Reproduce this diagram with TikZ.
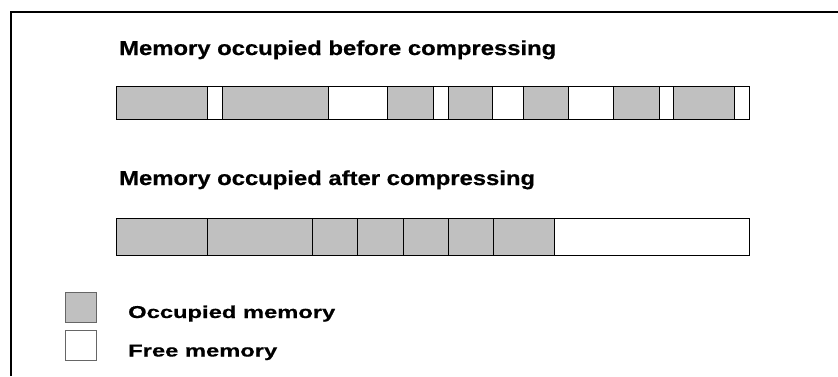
\documentclass[tikz,border=0pt]{standalone}
\usepackage{fontspec}
\setmainfont{Liberation Sans}
\newfontfamily\titlefont{Liberation Sans Bold}[FakeStretch=1.18, FakeBold=0.6]
\newfontfamily\legendfont{Liberation Sans Bold}[FakeStretch=1.38, FakeBold=0.6]
\usetikzlibrary{positioning}
\usepackage{xcolor}
\definecolor{usedgrey}{HTML}{C0C0C0}

\begin{document}
\begin{tikzpicture}[
      x=1pt, y=-1pt,
      node distance=0pt,
      seg/.style={
        draw=black,
        line width=0.8pt,
        inner sep=0pt,
        outer sep=0pt,
        minimum height=33pt
      },
      used/.style={seg, fill=usedgrey},
      free/.style={seg, fill=white},
      low/.style={minimum height=37pt},
      keybox/.style={draw=black!60, line width=0.8pt, inner sep=0pt,
        minimum width=31pt, minimum height=30pt},
      title/.style={font=\titlefont\fontsize{20.2}{24}\selectfont,
        inner sep=0pt, anchor=base west},
      keytext/.style={font=\legendfont\fontsize{17.2}{20}\selectfont,
        inner sep=0pt, anchor=base west}
    ]
      \useasboundingbox (0,0) rectangle (838,376);
      % frame
      \draw[line width=2pt] (11,376) -- (11,11.5) -- (838,11.5);

      % before compressing
      \node[title] (t) at (119,55) {Memory occupied before compressing};
      \node[used, minimum width=91pt, anchor=west] (a1) at (116,102.5) {};
      \node[free, minimum width=15pt, right=of a1] (a2) {};
      \node[used, minimum width=106pt, right=of a2] (a3) {};
      \node[free, minimum width=59pt, right=of a3] (a4) {};
      \node[used, minimum width=46pt, right=of a4] (a5) {};
      \node[free, minimum width=15pt, right=of a5] (a6) {};
      \node[used, minimum width=44pt, right=of a6] (a7) {};
      \node[free, minimum width=31pt, right=of a7] (a8) {};
      \node[used, minimum width=45pt, right=of a8] (a9) {};
      \node[free, minimum width=45pt, right=of a9] (a10) {};
      \node[used, minimum width=46pt, right=of a10] (a11) {};
      \node[free, minimum width=14pt, right=of a11] (a12) {};
      \node[used, minimum width=61pt, right=of a12] (a13) {};
      \node[free, minimum width=15pt, right=of a13] (a14) {};

      % after compressing
      \node[title] (s) at (119,185) {Memory occupied after compressing};
      \node[used, low, minimum width=91pt, anchor=west] (b1) at (116,236.5) {};
      \node[used, low, minimum width=105pt, right=of b1] (b2) {};
      \node[used, low, minimum width=45pt, right=of b2] (b3) {};
      \node[used, low, minimum width=46pt, right=of b3] (b4) {};
      \node[used, low, minimum width=45pt, right=of b4] (b5) {};
      \node[used, low, minimum width=45pt, right=of b5] (b6) {};
      \node[used, low, minimum width=61pt, right=of b6] (b7) {};
      \node[free, low, minimum width=195pt, right=of b7] (b8) {};

      % legend
      \node[keybox, fill=usedgrey, anchor=north west] (k1) at (65,292) {};
      \node[keybox, fill=white, anchor=north west] (k2) at (65,330) {};
      \node[keytext] (l1) at (128,318) {Occupied memory};
      \node[keytext] (l2) at (128,356.5) {Free memory};
    \end{tikzpicture}
\end{document}
